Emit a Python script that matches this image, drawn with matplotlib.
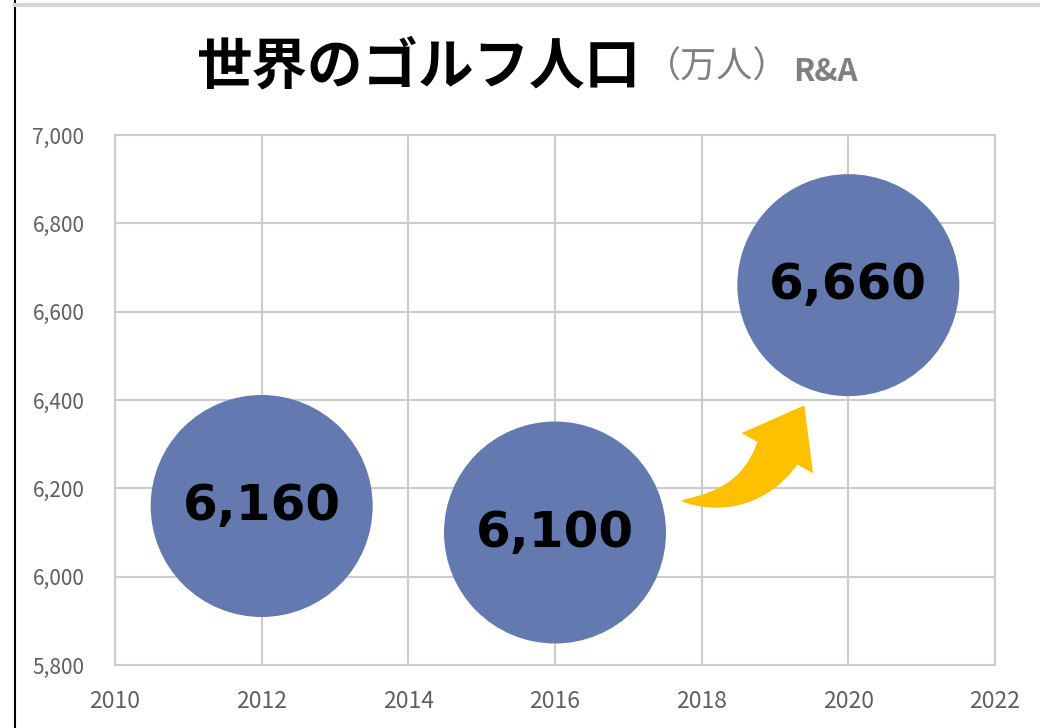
import numpy as np
import matplotlib.pyplot as plt
from matplotlib.patches import Polygon
from matplotlib.lines import Line2D

plt.rcParams['font.family'] = ['Noto Sans CJK JP', 'DejaVu Sans']

# ゴルフ人口（万人）
years = [2012, 2016, 2020]
population = [6160, 6100, 6660]

x_ticks = list(range(2010, 2023, 2))
y_ticks = list(range(5800, 7001, 200))

bubble_color = '#6379b0'
grid_color = '#cccccc'
label_gray = '#5f5f5f'


def curved_arrow(ax, tail, tip, color, body_w=46, head_w=82, head_l=55,
                 angle=60.6, ctrl=60):
    """Tapered curved arrow drawn as a filled polygon (sizes in pixels)."""
    to_disp = ax.transData.transform
    t = to_disp(tail)
    p = to_disp(tip)
    d = np.array([np.cos(np.radians(angle)), np.sin(np.radians(angle))])
    n = np.array([-d[1], d[0]])
    base = p - head_l * d
    c = base - ctrl * d
    s = np.linspace(0, 1, 50)[:, None]
    pts = (1 - s) ** 2 * t + 2 * (1 - s) * s * c + s ** 2 * base
    tang = 2 * (1 - s) * (c - t) + 2 * s * (base - c)
    tang /= np.linalg.norm(tang, axis=1)[:, None]
    norm = np.column_stack([-tang[:, 1], tang[:, 0]])
    w = body_w / 2 * s ** 0.75
    left = pts + norm * w
    right = pts - norm * w
    outline = np.vstack([left,
                         [base + n * head_w / 2, p, base - n * head_w / 2],
                         right[::-1]])
    poly = Polygon(ax.transData.inverted().transform(outline),
                   closed=True, facecolor=color, edgecolor='none', zorder=3)
    ax.add_patch(poly)


fig = plt.figure(figsize=(10.4, 7.28), dpi=100)
ax = fig.add_axes([115 / 1040, 63 / 728, 880 / 1040, 530 / 728])

ax.set_xlim(2010, 2022)
ax.set_ylim(5800, 7000)
ax.set_xticks(x_ticks)
ax.set_xticklabels([str(v) for v in x_ticks])
ax.set_yticks(y_ticks)
ax.set_yticklabels([f"{v:,}" for v in y_ticks])
ax.tick_params(axis='both', length=0, colors=label_gray)
ax.tick_params(axis='x', labelsize=16.5, pad=18)
ax.tick_params(axis='y', labelsize=15, pad=22)
ax.grid(True, color=grid_color, linewidth=1.5)
ax.set_axisbelow(True)
for sp in ax.spines.values():
    sp.set_color(grid_color)
    sp.set_linewidth(1.5)

size = (222 * 72 / fig.dpi) ** 2
ax.scatter(years, population, s=size, color=bubble_color, edgecolors='none',
           zorder=2, clip_on=False)
for x, v in zip(years, population):
    ax.text(x, v, f"{v:,}", ha='center', va='center', fontsize=36,
            fontweight='bold', family='DejaVu Sans', color='black', zorder=4)

curved_arrow(ax, (2017.72, 6172), (2019.4, 6388), '#ffc000')

# タイトル
fig.text(197 / 1040, 1 - 67 / 728, "世界のゴルフ人口", fontsize=40,
         fontweight='bold', ha='left', va='center')
fig.text(645 / 1040, 1 - 68 / 728, "（万人）", fontsize=26, color='#808080',
         ha='left', va='center')
fig.text(793 / 1040, 1 - 72 / 728, "R&A", fontsize=22.5, color='#808080',
         fontweight='bold', ha='left', va='center')

# 枠線
fig.add_artist(Line2D([15 / 1040, 15 / 1040], [0, 1], color='black',
                      linewidth=1.5, transform=fig.transFigure))
fig.add_artist(Line2D([15 / 1040, 1], [1 - 5 / 728, 1 - 5 / 728],
                      color='#d6d6d6', linewidth=3, transform=fig.transFigure))

fig.savefig("out.png", dpi=100)
